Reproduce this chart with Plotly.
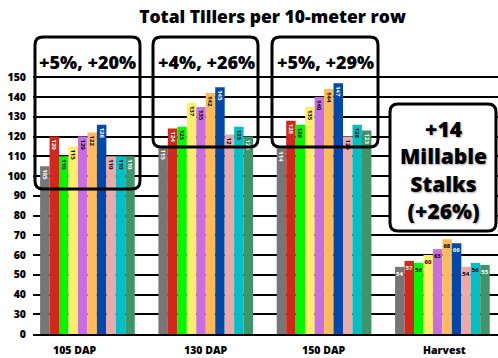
import plotly.graph_objects as go

# ---- data -------------------------------------------------------------
categories = ["105 DAP", "130 DAP", "150 DAP", "Harvest"]

t1 = [105, 115, 114, 54]
t2 = [120, 124, 128, 57]
t3 = [110, 125, 126, 56]
t4 = [115, 137, 135, 60]
t5 = [120, 135, 140, 63]
t6 = [122, 142, 144, 68]
t7 = [126, 145, 147, 66]
t8 = [110, 121, 120, 54]
t9 = [110, 125, 126, 56]
t10 = [110, 120, 123, 55]

series = [t1, t2, t3, t4, t5, t6, t7, t8, t9, t10]
series_names = [f"Treatment {i + 1}" for i in range(len(series))]

tick_values = [0, 30, 40, 50, 60, 70, 80, 90, 100, 110, 120, 130, 140, 150]

box_labels = ["+5%, +20%", "+4%, +26%", "+5%, +29%"]
harvest_note = "+14<br>Millable<br>Stalks<br>(+26%)"

# ---- styling ----------------------------------------------------------
colors = ["#767676", "#D4271B", "#00F800", "#FFEE66", "#C86DE3",
          "#FFBA5A", "#0048AB", "#EFA8A8", "#00BFC7", "#3F9468"]
label_colors = ["white", "white", "black", "black", "black",
                "black", "white", "black", "black", "white"]
FONT = "Open Sans"

W, H = 498, 358
M_L, M_R, M_T, M_B = 33, 0, 30, 24
PLOT_W = W - M_L - M_R
PLOT_H = H - M_T - M_B
PX_PER_UNIT = 1.975          # vertical pixels per axis unit
Y_TOP = PLOT_H / PX_PER_UNIT


def to_axis(v):
    """Broken value axis: 0-30 squeezed into one tick step, linear above."""
    return v - 20 if v >= 30 else v / 3.0


def px(x):
    return (x - M_L) / PLOT_W


def py(y):
    return (M_T + PLOT_H - y) / PLOT_H


def rounded_box(x0, y0, x1, y1, r=8):
    pts = [
        ("M", [(x0 + r, y0)]), ("L", [(x1 - r, y0)]),
        ("Q", [(x1, y0), (x1, y0 + r)]), ("L", [(x1, y1 - r)]),
        ("Q", [(x1, y1), (x1 - r, y1)]), ("L", [(x0 + r, y1)]),
        ("Q", [(x0, y1), (x0, y1 - r)]), ("L", [(x0, y0 + r)]),
        ("Q", [(x0, y0), (x0 + r, y0)]),
    ]
    parts = []
    for cmd, coords in pts:
        parts.append(cmd + " ".join(f"{px(a):.5f},{py(b):.5f}" for a, b in coords))
    return " ".join(parts) + " Z"


fig = go.Figure()

x_idx = list(range(len(categories)))
dap_idx = x_idx[:3]
harv_idx = x_idx[3:]

for i, vals in enumerate(series):
    common = dict(
        marker=dict(color=colors[i], line=dict(width=0)),
        offsetgroup=str(i),
        name=series_names[i],
        legendgroup=series_names[i],
        showlegend=False,
        textposition="inside",
        insidetextanchor="end",
        constraintext="none",
        insidetextfont=dict(family=FONT, size=6, color=label_colors[i], weight="bold"),
        hoverinfo="skip",
    )
    fig.add_trace(go.Bar(
        x=dap_idx,
        y=[to_axis(vals[k]) for k in dap_idx],
        text=[str(vals[k]) for k in dap_idx],
        textangle=90,
        **common,
    ))
    fig.add_trace(go.Bar(
        x=harv_idx,
        y=[to_axis(vals[k]) for k in harv_idx],
        text=[str(vals[k]) for k in harv_idx],
        textangle=0,
        **common,
    ))

# category labels under each group
x_shifts = [-12, 0, 0, 2]
annotations = []
for k, cat in enumerate(categories):
    annotations.append(dict(
        x=k, y=0, xref="x", yref="paper", yanchor="top", yshift=-7,
        xshift=x_shifts[k], text=cat, showarrow=False,
        font=dict(family=FONT, size=10.5, color="black", weight=800),
    ))

# percentage call-out boxes over the growth stages
box_px = [(35, 37, 140, 189), (153, 37, 258, 147), (272, 37, 378, 147)]
box_text_px = [(87, 62), (206, 62), (325, 62)]
shapes = []
for (bx0, by0, bx1, by1), (tx, ty), lab in zip(box_px, box_text_px, box_labels):
    shapes.append(dict(type="path", xref="paper", yref="paper",
                       path=rounded_box(bx0, by0, bx1, by1),
                       line=dict(color="black", width=3), layer="above"))
    annotations.append(dict(
        x=px(tx), y=py(ty), xref="paper", yref="paper",
        xanchor="center", yanchor="middle", text=lab, showarrow=False,
        font=dict(family=FONT, size=18, color="black", weight=800),
    ))

# harvest note box
shapes.append(dict(type="path", xref="paper", yref="paper",
                   path=rounded_box(390, 104, 496, 231),
                   line=dict(color="black", width=3), fillcolor="white",
                   layer="above"))
annotations.append(dict(
    x=px(443), y=py(170), xref="paper", yref="paper",
    xanchor="center", yanchor="middle", text=harvest_note, showarrow=False,
    font=dict(family=FONT, size=21, color="black", weight=800,
              shadow="1px 1px 2px rgba(0,0,0,0.35)"),
))

fig.update_layout(
    width=W, height=H,
    margin=dict(l=M_L, r=M_R, t=M_T, b=M_B, pad=0),
    paper_bgcolor="white", plot_bgcolor="white",
    barmode="group", bargap=0.2, bargroupgap=0,
    showlegend=False,
    title=dict(text="Total Tillers per 10-meter row",
               x=px(272.5), xref="paper", xanchor="center",
               y=1 - 17 / H, yanchor="middle",
               font=dict(family=FONT, size=17.5, color="black", weight=800)),
    xaxis=dict(range=[-0.46, 3.47], showticklabels=False, ticks="",
               showgrid=False, zeroline=False,
               showline=True, linecolor="black", linewidth=2),
    yaxis=dict(range=[0, Y_TOP],
               tickvals=[to_axis(v) for v in tick_values],
               ticktext=[str(v) for v in tick_values],
               showgrid=True, gridcolor="black", gridwidth=2,
               zeroline=False, showline=False, ticks="",
               ticklabelstandoff=6,
               tickfont=dict(family=FONT, size=10.5, color="black", weight=800)),
    shapes=shapes,
    annotations=annotations,
)

fig.write_html("out.html")
